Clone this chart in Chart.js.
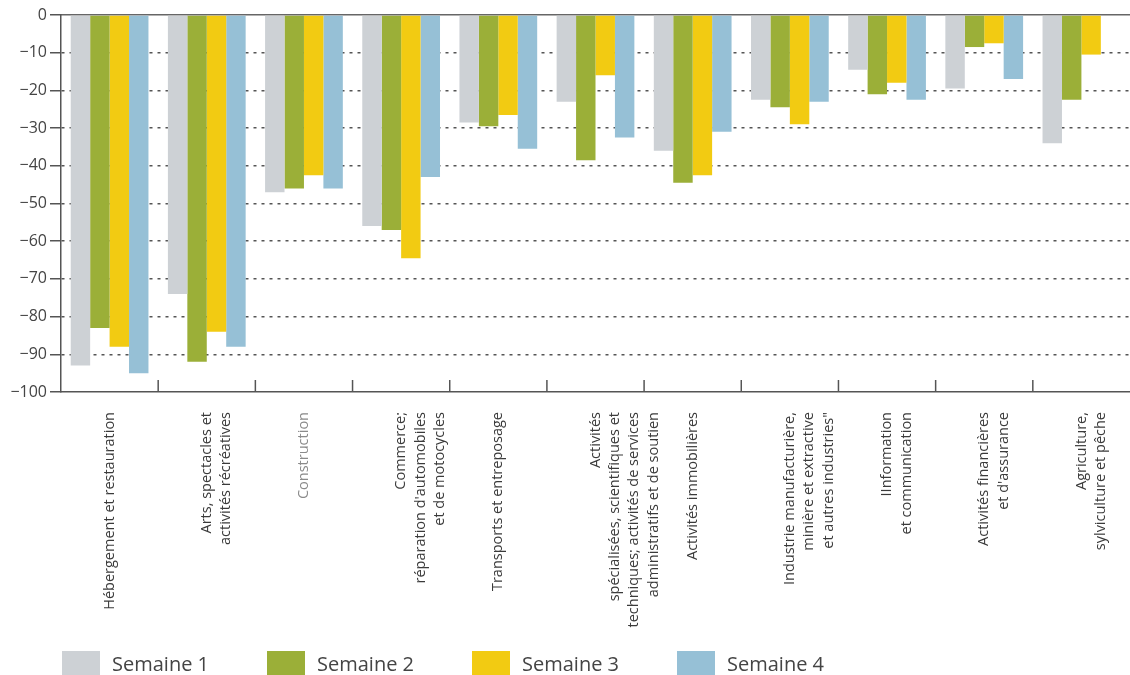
<!DOCTYPE html>
<html lang="fr">
<head>
<meta charset="utf-8">
<script src="https://cdn.jsdelivr.net/npm/chart.js@4"></script>
<style>
  body { margin: 0; background: #fff; }
  #wrap { position: relative; width: 1130px; height: 675px; }
  #legend { position: absolute; left: 62px; top: 651px; display: flex; font-family: "Open Sans", sans-serif; font-size: 20px; color: #444; }
  #legend .item { display: flex; align-items: center; width: 205px; height: 24px; }
  #legend .box { width: 38px; height: 24px; margin-right: 12px; }
</style>
</head>
<body>
<div id="wrap">
  <canvas id="myChart"></canvas>
  <div id="legend"></div>
</div>
<script>
const categories = [
  ["Hébergement et restauration", ""],
  ["Arts, spectacles et", "activités récréatives"],
  "Construction",
  ["Commerce;", "réparation d'automobiles", "et de motocycles"],
  "Transports et entreposage",
  ["Activités", "spécialisées, scientifiques et", "techniques; activités de services", "administratifs et de soutien"],
  "Activités immobilières",
  ["Industrie manufacturière,", "minière et extractive", "et autres industries\""],
  ["IInformation", "et communication"],
  ["Activités financières", "et d'assurance"],
  ["Agriculture,", "sylviculture et pêche"],
];

const seriesNames = ["Semaine 1", "Semaine 2", "Semaine 3", "Semaine 4"];
const seriesColors = ["#cdd1d5", "#9baf38", "#f2cb12", "#96c0d6"];

const semaine1 = [-93, -74, -47, -56, -28.5, -23, -36, -22.5, -14.5, -19.5, -34];
const semaine2 = [-83, -92, -46, -57, -29.5, -38.5, -44.5, -24.5, -21, -8.5, -22.5];
const semaine3 = [-88, -84, -42.5, -64.5, -26.5, -16, -42.5, -29, -18, -7.5, -10.5];
const semaine4 = [-95, -88, -46, -43, -35.5, -32.5, -31, -23, -22.5, -17, null];

const yTicks = [0, -10, -20, -30, -40, -50, -60, -70, -80, -90, -100];

const allSeries = [semaine1, semaine2, semaine3, semaine4];

// small upward tick marks between categories on the bottom axis
const innerTicks = {
  id: "innerTicks",
  afterDraw(chart) {
    const x = chart.scales.x;
    const ctx = chart.ctx;
    const bottom = chart.chartArea.bottom;
    ctx.save();
    ctx.strokeStyle = "#555";
    ctx.lineWidth = 1.5;
    for (let i = 1; i < categories.length; i++) {
      const px = (x.getPixelForValue(i - 1) + x.getPixelForValue(i)) / 2;
      ctx.beginPath();
      ctx.moveTo(px, bottom - 12);
      ctx.lineTo(px, bottom);
      ctx.stroke();
    }
    ctx.restore();
  },
};

new Chart(document.getElementById("myChart"), {
  type: "bar",
  data: {
    labels: categories,
    datasets: allSeries.map((values, i) => ({
      label: seriesNames[i],
      data: values,
      backgroundColor: seriesColors[i],
      borderWidth: 0,
      categoryPercentage: 0.8,
      barPercentage: 1.0,
    })),
  },
  options: {
    responsive: true,
    maintainAspectRatio: false,
    animation: false,
    layout: {
      padding: { left: 8, top: 15, right: -4, bottom: 23 },
    },
    scales: {
      x: {
        afterFit: (scale) => {
          scale.height = 260;
          scale.paddingLeft = 0;
          scale.paddingRight = 0;
        },
        grid: { display: false, drawTicks: false },
        border: { display: true, color: "#555", width: 1.5 },
        ticks: {
          minRotation: 90,
          maxRotation: 90,
          autoSkip: false,
          padding: 20,
          color: (c) => (c.index === 2 ? "#8a8a8a" : "#3a3a3a"),
          font: { family: "Open Sans", size: 14.5, lineHeight: 1.34 },
        },
      },
      x2: {
        position: "top",
        afterFit: (scale) => {
          scale.height = 0;
          scale.paddingLeft = 0;
          scale.paddingRight = 0;
        },
        grid: { display: false, drawTicks: false },
        ticks: { display: false },
        border: { display: true, color: "#666", width: 1.5 },
      },
      y: {
        min: -100,
        max: 0,
        afterFit: (scale) => { scale.width = 53; },
        afterBuildTicks: (scale) => {
          scale.ticks = yTicks.map((v) => ({ value: v }));
        },
        grid: {
          color: (c) => (c.tick && (c.tick.value === 0 || c.tick.value === -100) ? "rgba(0,0,0,0)" : "#555"),
          lineWidth: 1.5,
          drawTicks: true,
          tickLength: 11,
          tickColor: "#555",
          tickWidth: 1.5,
          tickBorderDash: [],
        },
        border: { display: true, color: "#555", width: 1.5, dash: [3, 5] },
        ticks: {
          padding: 3,
          color: "#444",
          font: { family: "Open Sans", size: 16 },
          callback: (value) => (value === 0 ? "0" : "\u2212" + Math.abs(value)),
        },
      },
    },
    plugins: {
      legend: { display: false },
      tooltip: { enabled: false },
    },
  },
  plugins: [innerTicks],
});

// legend built from the series names and colours
const legend = document.getElementById("legend");
seriesNames.forEach((name, i) => {
  const item = document.createElement("div");
  item.className = "item";
  const box = document.createElement("span");
  box.className = "box";
  box.style.background = seriesColors[i];
  const text = document.createElement("span");
  text.textContent = name;
  item.appendChild(box);
  item.appendChild(text);
  legend.appendChild(item);
});
</script>
</body>
</html>
